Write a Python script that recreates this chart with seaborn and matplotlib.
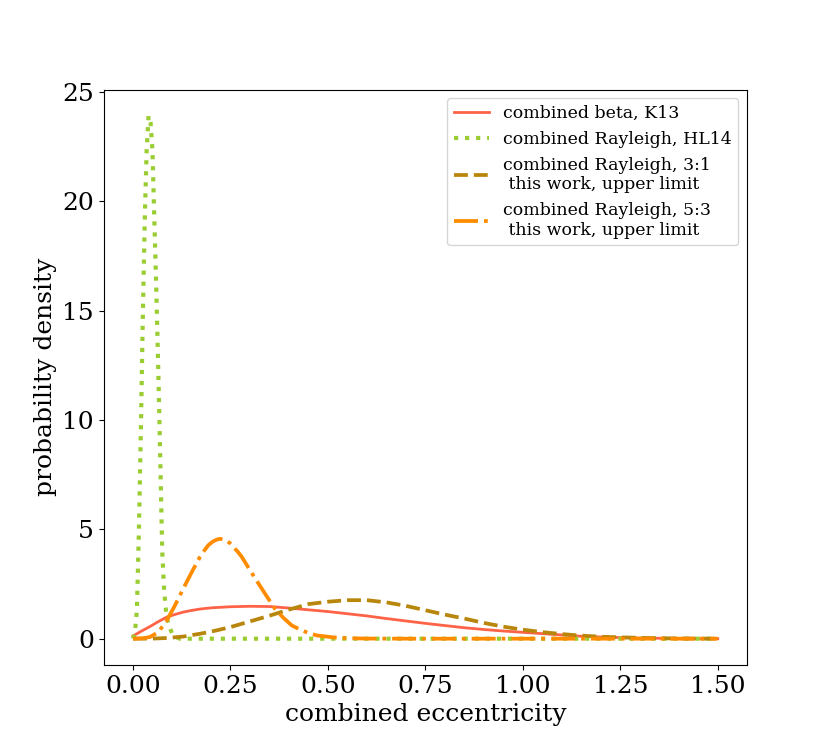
import pandas as pd
import seaborn as sns
import matplotlib.pyplot as plt

# values
beta_x = [0.0, 0.02, 0.044, 0.065, 0.087, 0.11, 0.13, 0.15, 0.17, 0.2, 0.25, 0.3, 0.35,
          0.4, 0.45, 0.5, 0.55, 0.6, 0.65, 0.7, 0.75, 0.8, 0.85, 0.9, 0.95, 1.0, 1.05,
          1.1, 1.15, 1.2, 1.25, 1.3, 1.35, 1.4, 1.45, 1.5]
beta_y = [0.12, 0.33, 0.56, 0.78, 0.99, 1.12, 1.22, 1.29, 1.35, 1.41, 1.46, 1.48, 1.47,
          1.40, 1.32, 1.24, 1.14, 1.04, 0.92, 0.81, 0.70, 0.60, 0.50, 0.42, 0.35, 0.29, 0.23,
          0.17, 0.11, 0.08, 0.05, 0.03, 0.02, 0.01, 0.0, 0.0]

hl14_x = [0.0, 0.005, 0.01, 0.015, 0.02, 0.025, 0.03, 0.035, 0.04, 0.045, 0.05, 0.055,
          0.06, 0.065, 0.07, 0.075, 0.08, 0.085, 0.09, 0.1, 0.11, 0.12, 1.5]
hl14_y = [0.0, 0.3, 1.3, 4.8, 9.3, 14.5, 19.0, 22.3, 23.9, 23.6, 22.3, 19.0,
          15.8, 12.2, 8.2, 4.0, 2.2, 1.2, 0.7, 0.25, 0.07, 0.0, 0.0]

r31_x = [0.0, 0.05, 0.087, 0.13, 0.17, 0.2, 0.25, 0.3, 0.35, 0.4, 0.45, 0.5, 0.55, 0.6,
         0.65, 0.7, 0.75, 0.8, 0.85, 0.9, 0.95, 1.0, 1.05, 1.1, 1.15, 1.2, 1.25, 1.3,
         1.35, 1.4, 1.45, 1.5]
r31_y = [0.0, 0.005, 0.03, 0.1, 0.22, 0.32, 0.53, 0.79, 1.05, 1.33, 1.58, 1.69, 1.76, 1.76,
         1.66, 1.50, 1.30, 1.10, 0.92, 0.72, 0.55, 0.41, 0.30, 0.21, 0.14, 0.09, 0.06, 0.04,
         0.02, 0.01, 0.005, 0.0]

r53_x = [0.0, 0.026, 0.044, 0.065, 0.087, 0.108, 0.129, 0.151, 0.172, 0.183, 0.193, 0.204,
         0.215, 0.222, 0.228, 0.235, 0.241, 0.249, 0.257, 0.268, 0.279, 0.3, 0.322, 0.343,
         0.364, 0.386, 0.407, 0.428, 0.45, 0.471, 0.514, 0.556, 0.6, 0.7, 1.5]
r53_y = [0.0, 0.02, 0.08, 0.3, 0.84, 1.53, 2.29, 3.05, 3.74, 4.03, 4.27, 4.43,
         4.53, 4.56, 4.55, 4.52, 4.47, 4.36, 4.2, 3.99, 3.74, 3.13, 2.52, 1.94,
         1.37, 0.95, 0.61, 0.42, 0.26, 0.15, 0.06, 0.02, 0.005, 0.0, 0.0]

x_ticks = [0.0, 0.25, 0.5, 0.75, 1.0, 1.25, 1.5]

labels = ['combined beta, K13',
          'combined Rayleigh, HL14',
          'combined Rayleigh, 3:1\n this work, upper limit',
          'combined Rayleigh, 5:3\n this work, upper limit']

plt.rcParams['font.family'] = 'DejaVu Serif'

fig, ax = plt.subplots(figsize=(8.3, 7.47), dpi=100)

sns.lineplot(x=beta_x, y=beta_y, color='tomato', linewidth=2, label=labels[0], ax=ax)
sns.lineplot(x=hl14_x, y=hl14_y, color='yellowgreen', linewidth=3, linestyle=':',
             label=labels[1], ax=ax)
sns.lineplot(x=r31_x, y=r31_y, color='darkgoldenrod', linewidth=2.7, linestyle='--',
             label=labels[2], ax=ax)
sns.lineplot(x=r53_x, y=r53_y, color='darkorange', linewidth=2.7, linestyle='-.',
             label=labels[3], ax=ax)

ax.set_xticks(x_ticks)
ax.set_xticklabels([f'{t:.2f}' for t in x_ticks])
ax.set_xlabel('combined eccentricity', fontsize=18)
ax.set_ylabel('probability density', fontsize=18)
ax.tick_params(axis='both', labelsize=18)
ax.legend(loc='upper right', fontsize=12.5)

plt.savefig('out.png', dpi=100)
